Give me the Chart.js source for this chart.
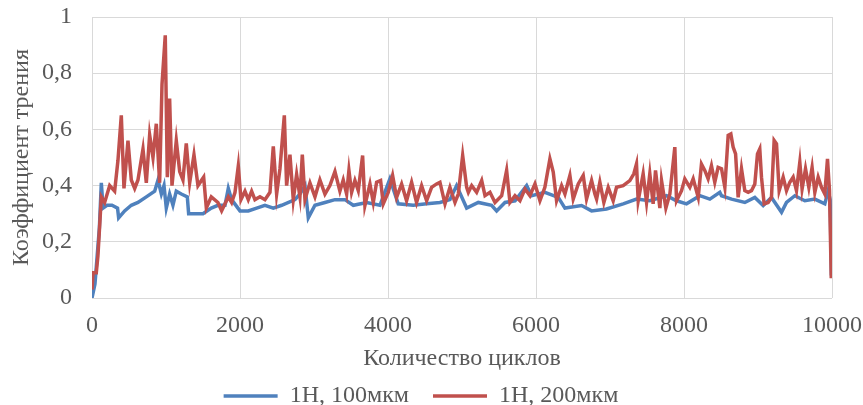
<!DOCTYPE html>
<html>
<head>
<meta charset="utf-8">
<script src="https://cdn.jsdelivr.net/npm/chart.js@4.4.1/dist/chart.umd.min.js"></script>
<style>
  html, body { margin: 0; padding: 0; background: #fff; }
  #wrap { width: 863px; height: 405px; }
</style>
</head>
<body>
<div id="wrap"><canvas id="friction"></canvas></div>
<script>
// readings (cycles, coefficient)
const blue_cycles = [0, 40, 100, 126, 150, 203, 270, 345, 360, 441, 531, 621, 734, 847, 892, 937, 973, 1004, 1049, 1094, 1139, 1207, 1288, 1306, 1500, 1612,
  1702, 1797, 1842, 1887, 2000, 2112, 2225, 2337, 2450, 2563, 2743, 2810, 2878, 2923, 3013, 3148, 3283, 3418,
  3531, 3711, 3891, 4026, 4138, 4341, 4522, 4702, 4837, 4927, 5063,
  5220, 5400, 5468, 5581, 5716, 5874, 5941, 6120, 6301, 6391, 6616, 6751,
  6953, 7178, 7358, 7538, 7764, 7899, 8034, 8214, 8349, 8484,
  8507, 8642, 8822, 8957, 9070, 9182, 9318, 9385, 9498, 9633, 9768, 9903, 9948, 9975, 9992];
const blue_values = [0.0, 0.05, 0.25, 0.41, 0.32, 0.33, 0.33, 0.32, 0.285, 0.31, 0.33, 0.34, 0.36, 0.38, 0.42, 0.37, 0.40, 0.32, 0.37, 0.33, 0.38, 0.37, 0.36, 0.30, 0.30, 0.32,
  0.33, 0.33, 0.39, 0.35, 0.31, 0.31, 0.32, 0.33, 0.32, 0.33, 0.35, 0.37, 0.40, 0.285, 0.33, 0.34, 0.35, 0.35,
  0.33, 0.34, 0.33, 0.424, 0.335, 0.33, 0.335, 0.34, 0.35, 0.40, 0.32,
  0.34, 0.33, 0.31, 0.34, 0.346, 0.40, 0.364, 0.376, 0.358, 0.32, 0.329, 0.31,
  0.317, 0.335, 0.352, 0.346, 0.364, 0.346, 0.335, 0.364, 0.352, 0.376,
  0.364, 0.352, 0.34, 0.358, 0.329, 0.358, 0.305, 0.34, 0.364, 0.346, 0.352, 0.335, 0.382, 0.35, 0.08];

const red_cycles = [0, 14, 58, 80, 126, 171, 239, 306, 351, 396, 432, 486, 531, 577, 621, 689, 734, 779, 824, 869, 914, 946, 990, 1018, 1049, 1081, 1139, 1185, 1229, 1274, 1320, 1378, 1432, 1509, 1545, 1612,
  1702, 1752, 1842, 1887, 1932, 1977, 2013, 2067, 2112, 2157, 2202, 2270, 2337, 2405, 2450, 2495, 2540, 2599, 2630, 2675, 2720, 2765, 2810, 2842, 2878, 2945, 3013, 3080, 3148, 3215, 3283, 3350, 3395,
  3441, 3472, 3508, 3553, 3598, 3657, 3688, 3756, 3801, 3846, 3900, 3936, 4003, 4062, 4116, 4184, 4251, 4319, 4386, 4454, 4522, 4589, 4657, 4702, 4770, 4837, 4905, 4950, 5009, 5063,
  5086, 5131, 5198, 5266, 5311, 5378, 5446, 5536, 5603, 5648, 5716, 5783, 5851, 5918, 5986, 6053, 6120, 6188, 6233, 6278, 6346, 6391, 6458, 6503, 6571, 6638, 6683, 6751, 6796,
  6819, 6863, 6917, 6976, 7043, 7088, 7178, 7268, 7322, 7358, 7381, 7448, 7494, 7538, 7583, 7615, 7674, 7696, 7755, 7809, 7876, 7899, 7967, 8011, 8079, 8124, 8192, 8236, 8281, 8326, 8371, 8416, 8461,
  8507, 8552, 8597, 8633, 8664, 8697, 8732, 8777, 8822, 8867, 8912, 8957, 8993, 9024, 9047, 9083, 9137, 9182, 9218, 9250, 9286, 9340, 9385, 9430, 9475, 9520, 9565, 9596, 9642, 9687, 9731, 9768, 9813, 9858, 9903, 9939, 9966, 9990];
const red_values = [0.03, 0.09, 0.09, 0.15, 0.36, 0.34, 0.40, 0.38, 0.49, 0.65, 0.39, 0.56, 0.42, 0.39, 0.42, 0.53, 0.41, 0.58, 0.50, 0.62, 0.41, 0.76, 0.935, 0.43, 0.71, 0.40, 0.56, 0.45, 0.42, 0.55, 0.41, 0.51, 0.40, 0.43, 0.32, 0.36,
  0.34, 0.31, 0.36, 0.34, 0.375, 0.47, 0.35, 0.38, 0.35, 0.38, 0.35, 0.36, 0.35, 0.376, 0.54, 0.37, 0.46, 0.65, 0.40, 0.51, 0.35, 0.44, 0.36, 0.51, 0.35, 0.41, 0.36, 0.42, 0.37, 0.40, 0.45, 0.38, 0.42,
  0.37, 0.454, 0.376, 0.418, 0.382, 0.507, 0.329, 0.406, 0.34, 0.412, 0.418, 0.335, 0.376, 0.436, 0.358, 0.406, 0.346, 0.412, 0.34, 0.40, 0.346, 0.394, 0.406, 0.412, 0.335, 0.394, 0.34, 0.37, 0.507, 0.394,
  0.376, 0.40, 0.376, 0.418, 0.364, 0.376, 0.34, 0.364, 0.454, 0.34, 0.364, 0.346, 0.388, 0.364, 0.406, 0.346, 0.394, 0.495, 0.448, 0.346, 0.40, 0.37, 0.436, 0.352, 0.406, 0.436, 0.352, 0.418, 0.37,
  0.352, 0.412, 0.34, 0.394, 0.346, 0.394, 0.40, 0.418, 0.442, 0.477, 0.346, 0.442, 0.34, 0.442, 0.335, 0.454, 0.32, 0.418, 0.32, 0.37, 0.537, 0.346, 0.382, 0.424, 0.394, 0.424, 0.358, 0.477, 0.454, 0.424, 0.471, 0.412, 0.465,
  0.46, 0.394, 0.579, 0.584, 0.537, 0.513, 0.358, 0.46, 0.382, 0.376, 0.382, 0.406, 0.513, 0.531, 0.43, 0.335, 0.34, 0.358, 0.561, 0.549, 0.382, 0.43, 0.382, 0.412, 0.43, 0.382, 0.483, 0.388, 0.46, 0.394, 0.465, 0.376, 0.43, 0.394, 0.37, 0.495, 0.382, 0.07];

const x_ticks = [0, 2000, 4000, 6000, 8000, 10000];
const series_names = ['1Н, 100мкм', '1Н, 200мкм'];

const txt = '#595959';
const font = { family: '"Liberation Serif", "Times New Roman", serif', size: 24, lineHeight: 1 };

function pts(xs, ys) {
    return xs.map((x, i) => ({ x: x, y: ys[i] }));
}

const ctx = document.getElementById('friction').getContext('2d');
const friction_chart = new Chart(ctx, {
    type: 'line',
    data: {
        datasets: [{
            label: series_names[0],
            data: pts(blue_cycles, blue_values),
            borderColor: '#4f81bd',
            backgroundColor: '#4f81bd',
            borderWidth: 3.5,
            pointRadius: 0,
            tension: 0,
            order: 1
        }, {
            label: series_names[1],
            data: pts(red_cycles, red_values),
            borderColor: '#c0504d',
            backgroundColor: '#c0504d',
            borderWidth: 3.5,
            pointRadius: 0,
            tension: 0,
            order: 0
        }]
    },
    options: {
        responsive: true,
        maintainAspectRatio: false,
        animation: false,
        layout: { padding: { left: 10, right: 31, top: 17, bottom: -13 } },
        scales: {
            x: {
                type: 'linear',
                min: 0,
                max: 10000,
                afterBuildTicks: (axis) => { axis.ticks = x_ticks.map(v => ({ value: v })); },
                afterFit: (axis) => { axis.height = 62; axis.paddingLeft = 0; axis.paddingRight = 0; },
                ticks: { color: txt, font: font, maxRotation: 0, padding: 16, callback: v => String(v) },
                grid: { color: '#d9d9d9', lineWidth: 1, drawTicks: false },
                border: { display: false },
                title: { display: true, text: 'Количество циклов', color: txt, font: font, padding: { top: 0, bottom: -11 } }
            },
            y: {
                min: 0,
                max: 1,
                afterFit: (axis) => { axis.width = 82; axis.paddingTop = 0; axis.paddingBottom = 0; },
                ticks: {
                    stepSize: 0.2, color: txt, font: font, padding: 20,
                    callback: v => (v === 0 || v === 1) ? String(v) : v.toFixed(1).replace('.', ',')
                },
                grid: { color: '#d9d9d9', lineWidth: 1, drawTicks: false },
                border: { display: false },
                title: { display: true, text: 'Коэффициент трения', color: txt, font: font, padding: { top: 0, bottom: 8 } }
            }
        },
        plugins: {
            legend: {
                position: 'bottom',
                labels: {
                    color: txt,
                    font: font,
                    usePointStyle: true,
                    pointStyle: 'line',
                    pointStyleWidth: 54,
                    padding: 24,
                    sort: (a, b) => a.datasetIndex - b.datasetIndex
                }
            },
            tooltip: { enabled: false }
        }
    },
    plugins: [{
        id: 'rightEdge',
        afterDraw(chart) {
            const a = chart.chartArea;
            const c = chart.ctx;
            c.save();
            c.strokeStyle = '#d9d9d9';
            c.lineWidth = 1;
            c.beginPath();
            c.moveTo(Math.round(a.right) + 0.5, a.top);
            c.lineTo(Math.round(a.right) + 0.5, a.bottom);
            c.stroke();
            c.restore();
        }
    }]
});
</script>
</body>
</html>
